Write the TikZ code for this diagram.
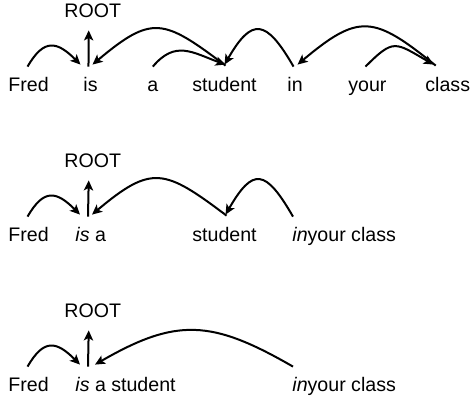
\documentclass[tikz,border=0pt]{standalone}
\usepackage{fontspec}
\setmainfont{Liberation Sans}
\usetikzlibrary{arrows.meta}
\tikzset{
  word/.style={inner sep=0pt,text height=7pt,text depth=0pt,anchor=base west},
  dep/.style={line width=1pt,-{Stealth[length=5pt,width=4.6pt,inset=1.2pt]}}
}

\begin{document}
\begin{tikzpicture}[x=0.5pt,y=0.5pt,font=\fontsize{9.8}{12}\selectfont]
            \useasboundingbox (0,0) rectangle (471,403);

            \node[word] (root1) at (64,386) {ROOT};
            \node[word] (fred1) at (8,312) {Fred};
            \node[word] (is1) at (83,312) {is};
            \node[word] (a1) at (147,312) {a};
            \node[word] (student1) at (192,312) {student};
            \node[word] (in1) at (287,312) {in};
            \node[word] (your1) at (348,312) {your};
            \node[word] (class1) at (425,312) {class};

            \draw[dep] ([shift={(-2,10)}]is1.north) to ([shift={(-4,-13)}]root1.south);
            \draw[dep] ([shift={(-1,10)}]fred1.north) to[out=60,in=135,distance=16.5pt] ([shift={(-10,12)}]is1.north);
            \draw[dep] ([shift={(1,11)}]student1.north) to[out=143,in=40,distance=39pt] ([shift={(2,12)}]is1.north);
            \draw[dep] ([shift={(0,10)}]a1.north) to[out=50,in=160,distance=17.5pt] ([shift={(1,12)}]student1.north);
            \draw[dep] ([shift={(-1.5,10)}]in1.north) to[out=120,in=60,distance=27.5pt] ([shift={(0,12)}]student1.north);
            \draw[dep] ([shift={(-12,11)}]class1.north) to[out=141,in=40,distance=40pt] ([shift={(2.5,12)}]in1.north);
            \draw[dep] ([shift={(-2,10)}]your1.north) to[out=45,in=150,out distance=20pt,in distance=22.5pt] ([shift={(-14,12)}]class1.north);

            \node[word] (root2) at (64,236) {ROOT};
            \node[word] (fred2) at (8,162) {Fred};
            \node[word] (is2) at (75,162) {\textit{is} a};
            \node[word] (student2) at (192,162) {student};
            \node[word] (in2) at (292,162) {\textit{in}your class};

            \draw[dep] ([shift={(13,10)}]is2.north west) to ([shift={(-4,-13)}]root2.south);
            \draw[dep] ([shift={(-1,10)}]fred2.north) to[out=60,in=135,distance=16.5pt] ([shift={(5,12)}]is2.north west);
            \draw[dep] ([shift={(2,11)}]student2.north) to[out=143,in=40,distance=39pt] ([shift={(17,12)}]is2.north west);
            \draw[dep] ([shift={(1,10)}]in2.north west) to[out=120,in=60,distance=27.5pt] ([shift={(1,12)}]student2.north);

            \node[word] (root3) at (64,86) {ROOT};
            \node[word] (fred3) at (8,12) {Fred};
            \node[word] (is3) at (75,12) {\textit{is} a student};
            \node[word] (in3) at (292,12) {\textit{in}your class};

            \draw[dep] ([shift={(13,10)}]is3.north west) to ([shift={(-4,-13)}]root3.south);
            \draw[dep] ([shift={(-1,10)}]fred3.north) to[out=60,in=135,distance=16.5pt] ([shift={(5,12)}]is3.north west);
            \draw[dep] ([shift={(1,10)}]in3.north west) to[out=150,in=30,distance=47pt] ([shift={(20,12)}]is3.north west);
        \end{tikzpicture}
\end{document}
